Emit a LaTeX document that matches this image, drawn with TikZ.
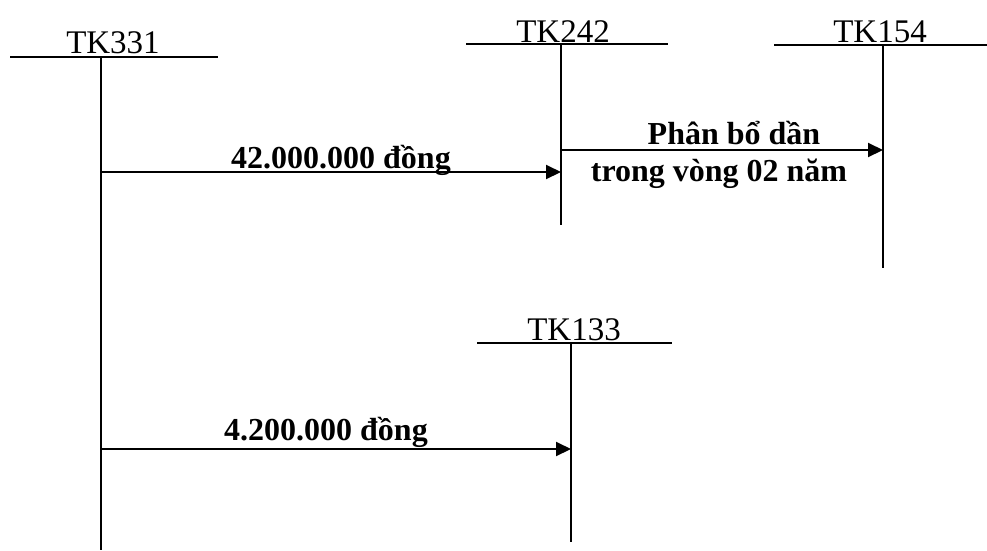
\documentclass[tikz,border=0pt]{standalone}
\usepackage{fontspec}
\setmainfont{Liberation Serif}
\usetikzlibrary{arrows.meta}

\begin{document}
\begin{tikzpicture}[x=1pt, y=-1pt,
    acc/.style={line width=2pt},
    flow/.style={line width=2pt, -{Triangle[length=15pt,width=14pt]}},
    tk/.style={anchor=base, inner sep=0pt, font=\fontsize{33}{36}\selectfont},
    amt/.style={anchor=base, inner sep=0pt, font=\fontsize{32}{36}\selectfont\bfseries}]
    \useasboundingbox (0, 0) rectangle (987, 550);
    % tai khoan
    \node[tk](tk331) at (113, 53) {TK331};
    \node[tk](tk242) at (563, 42) {TK242};
    \node[tk](tk154) at (880, 42) {TK154};
    \node[tk](tk133) at (574, 340) {TK133};
    \coordinate(l331) at (10, 57);
    \coordinate(r331) at (218, 57);
    \coordinate(t331) at (101, 57);
    \coordinate(b331) at (101, 550);
    \coordinate(l242) at (466, 44);
    \coordinate(r242) at (668, 44);
    \coordinate(t242) at (561, 44);
    \coordinate(b242) at (561, 225);
    \coordinate(l154) at (774, 45);
    \coordinate(r154) at (987, 45);
    \coordinate(t154) at (883, 45);
    \coordinate(b154) at (883, 268);
    \coordinate(l133) at (477, 343);
    \coordinate(r133) at (672, 343);
    \coordinate(t133) at (571, 343);
    \coordinate(b133) at (571, 542);
    \draw[acc] (l331)--(r331);
    \draw[acc] (t331)--(b331);
    \draw[acc] (l242)--(r242);
    \draw[acc] (t242)--(b242);
    \draw[acc] (l154)--(r154);
    \draw[acc] (t154)--(b154);
    \draw[acc] (l133)--(r133);
    \draw[acc] (t133)--(b133);
    % but toan
    \coordinate(s1) at (101, 172);
    \coordinate(e1) at (561, 172);
    \coordinate(s2) at (561, 150);
    \coordinate(e2) at (883, 150);
    \coordinate(s3) at (101, 449);
    \coordinate(e3) at (571, 449);
    \draw[flow] (s1)--(e1);
    \draw[flow] (s2)--(e2);
    \draw[flow] (s3)--(e3);
    \node[amt](m1) at (341, 168) {42.000.000 đồng};
    \node[amt](m2) at (734, 144) {Phân bổ dần};
    \node[amt](m3) at (719, 181) {trong vòng 02 năm};
    \node[amt](m4) at (326, 440) {4.200.000 đồng};
\end{tikzpicture}
\end{document}
